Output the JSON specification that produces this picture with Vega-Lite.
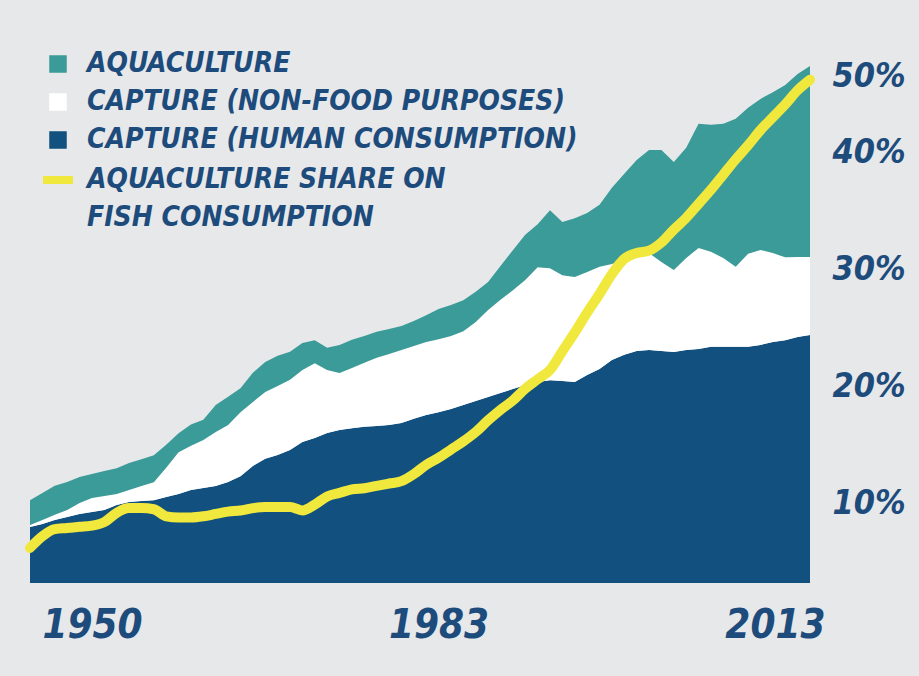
{
  "$schema": "https://vega.github.io/schema/vega-lite/v6.json",
  "width": 780,
  "height": 543,
  "autosize": {"type": "none"},
  "padding": {"left": 30, "top": 40, "right": 109, "bottom": 93},
  "background": "#e7e8ea",
  "config": {"view": {"stroke": null}, "font": "'DejaVu Sans Condensed', 'Roboto Condensed', Roboto, sans-serif"},
  "data": {"values": [
    {"year": 1950, "human": 17.5, "nonfood": 0.6, "aqua": 7.8, "share": 6.2},
    {"year": 1951, "human": 18.4, "nonfood": 1.3, "aqua": 8.4, "share": 7.2},
    {"year": 1952, "human": 19.7, "nonfood": 1.6, "aqua": 9.1, "share": 7.8},
    {"year": 1953, "human": 20.6, "nonfood": 2.2, "aqua": 8.8, "share": 7.9},
    {"year": 1954, "human": 21.6, "nonfood": 3.4, "aqua": 8.1, "share": 8.0},
    {"year": 1955, "human": 22.2, "nonfood": 4.4, "aqua": 7.5, "share": 8.1},
    {"year": 1956, "human": 22.8, "nonfood": 4.4, "aqua": 7.8, "share": 8.4},
    {"year": 1957, "human": 24.4, "nonfood": 3.4, "aqua": 8.1, "share": 9.2},
    {"year": 1958, "human": 25.3, "nonfood": 3.8, "aqua": 8.4, "share": 9.6},
    {"year": 1959, "human": 25.6, "nonfood": 4.7, "aqua": 8.4, "share": 9.6},
    {"year": 1960, "human": 25.9, "nonfood": 5.6, "aqua": 8.4, "share": 9.5},
    {"year": 1961, "human": 26.9, "nonfood": 9.1, "aqua": 7.2, "share": 8.9},
    {"year": 1962, "human": 27.8, "nonfood": 13.1, "aqua": 5.9, "share": 8.8},
    {"year": 1963, "human": 29.1, "nonfood": 13.8, "aqua": 6.6, "share": 8.8},
    {"year": 1964, "human": 29.7, "nonfood": 15.0, "aqua": 6.3, "share": 8.9},
    {"year": 1965, "human": 30.3, "nonfood": 16.9, "aqua": 8.4, "share": 9.1},
    {"year": 1966, "human": 31.6, "nonfood": 17.8, "aqua": 8.8, "share": 9.3},
    {"year": 1967, "human": 33.4, "nonfood": 20.0, "aqua": 7.5, "share": 9.4},
    {"year": 1968, "human": 36.6, "nonfood": 20.0, "aqua": 9.1, "share": 9.6},
    {"year": 1969, "human": 38.8, "nonfood": 20.9, "aqua": 9.4, "share": 9.7},
    {"year": 1970, "human": 40.0, "nonfood": 21.6, "aqua": 9.4, "share": 9.7},
    {"year": 1971, "human": 41.6, "nonfood": 21.9, "aqua": 8.8, "share": 9.7},
    {"year": 1972, "human": 44.1, "nonfood": 22.5, "aqua": 8.4, "share": 9.4},
    {"year": 1973, "human": 45.3, "nonfood": 23.4, "aqua": 7.2, "share": 9.9},
    {"year": 1974, "human": 46.9, "nonfood": 19.7, "aqua": 6.9, "share": 10.6},
    {"year": 1975, "human": 47.8, "nonfood": 17.8, "aqua": 8.8, "share": 10.9},
    {"year": 1976, "human": 48.4, "nonfood": 18.8, "aqua": 8.8, "share": 11.2},
    {"year": 1977, "human": 48.8, "nonfood": 20.0, "aqua": 8.4, "share": 11.3},
    {"year": 1978, "human": 49.1, "nonfood": 21.3, "aqua": 8.1, "share": 11.5},
    {"year": 1979, "human": 49.4, "nonfood": 22.2, "aqua": 7.8, "share": 11.7},
    {"year": 1980, "human": 50.0, "nonfood": 22.8, "aqua": 7.5, "share": 11.9},
    {"year": 1981, "human": 51.3, "nonfood": 22.8, "aqua": 7.8, "share": 12.5},
    {"year": 1982, "human": 52.5, "nonfood": 22.8, "aqua": 8.4, "share": 13.3},
    {"year": 1983, "human": 53.4, "nonfood": 22.8, "aqua": 9.4, "share": 13.9},
    {"year": 1984, "human": 54.4, "nonfood": 22.8, "aqua": 9.7, "share": 14.6},
    {"year": 1985, "human": 55.6, "nonfood": 23.1, "aqua": 9.7, "share": 15.3},
    {"year": 1986, "human": 56.9, "nonfood": 24.7, "aqua": 9.4, "share": 16.1},
    {"year": 1987, "human": 58.1, "nonfood": 27.2, "aqua": 8.8, "share": 17.1},
    {"year": 1988, "human": 59.4, "nonfood": 29.1, "aqua": 10.6, "share": 18.0},
    {"year": 1989, "human": 60.6, "nonfood": 30.9, "aqua": 12.5, "share": 18.8},
    {"year": 1990, "human": 61.9, "nonfood": 32.8, "aqua": 14.1, "share": 19.8},
    {"year": 1991, "human": 62.8, "nonfood": 35.9, "aqua": 13.4, "share": 20.6},
    {"year": 1992, "human": 63.4, "nonfood": 35.0, "aqua": 18.1, "share": 21.4},
    {"year": 1993, "human": 63.1, "nonfood": 33.1, "aqua": 16.6, "share": 23.0},
    {"year": 1994, "human": 62.8, "nonfood": 32.8, "aqua": 18.4, "share": 24.6},
    {"year": 1995, "human": 65.0, "nonfood": 32.2, "aqua": 18.4, "share": 26.3},
    {"year": 1996, "human": 66.9, "nonfood": 31.9, "aqua": 19.4, "share": 27.9},
    {"year": 1997, "human": 69.7, "nonfood": 30.0, "aqua": 23.8, "share": 29.6},
    {"year": 1998, "human": 71.3, "nonfood": 29.7, "aqua": 26.9, "share": 30.9},
    {"year": 1999, "human": 72.5, "nonfood": 29.7, "aqua": 30.0, "share": 31.4},
    {"year": 2000, "human": 72.8, "nonfood": 30.3, "aqua": 32.2, "share": 31.6},
    {"year": 2001, "human": 72.5, "nonfood": 27.8, "aqua": 35.0, "share": 32.3},
    {"year": 2002, "human": 72.2, "nonfood": 25.6, "aqua": 33.8, "share": 33.4},
    {"year": 2003, "human": 72.8, "nonfood": 28.8, "aqua": 34.4, "share": 34.4},
    {"year": 2004, "human": 73.1, "nonfood": 31.6, "aqua": 38.8, "share": 35.6},
    {"year": 2005, "human": 73.8, "nonfood": 29.7, "aqua": 39.7, "share": 36.8},
    {"year": 2006, "human": 73.8, "nonfood": 27.8, "aqua": 41.9, "share": 38.1},
    {"year": 2007, "human": 73.8, "nonfood": 25.0, "aqua": 46.3, "share": 39.4},
    {"year": 2008, "human": 73.8, "nonfood": 29.1, "aqua": 45.6, "share": 40.6},
    {"year": 2009, "human": 74.4, "nonfood": 29.7, "aqua": 47.2, "share": 41.9},
    {"year": 2010, "human": 75.3, "nonfood": 27.8, "aqua": 50.3, "share": 43.0},
    {"year": 2011, "human": 75.9, "nonfood": 25.9, "aqua": 53.8, "share": 44.1},
    {"year": 2012, "human": 76.9, "nonfood": 25.0, "aqua": 57.2, "share": 45.3},
    {"year": 2013, "human": 77.5, "nonfood": 24.4, "aqua": 59.7, "share": 46.2}
  ]},
  "layer": [
    {
      "transform": [
        {"fold": ["human", "nonfood", "aqua"], "as": ["series", "value"]},
        {"calculate": "indexof(['human','nonfood','aqua'], datum.series)", "as": "stackOrder"}
      ],
      "mark": {"type": "area", "interpolate": "linear"},
      "encoding": {
        "x": {
          "field": "year", "type": "quantitative",
          "scale": {"domain": [1950, 2013], "nice": false, "zero": false},
          "axis": {
            "title": null, "values": [1950, 1983, 2013], "format": "d",
            "domain": false, "ticks": false, "grid": false,
            "labelFontSize": 40,
            "labelFontStyle": "italic", "labelFontWeight": "bold",
            "labelColor": "#1d4c7c", "labelPadding": 22, "labelFlush": true,
            "labelOffset": {"condition": [{"test": "datum.value == 1950", "value": 12}, {"test": "datum.value == 2013", "value": 15}], "value": 0}
          }
        },
        "y": {
          "field": "value", "type": "quantitative", "stack": "zero",
          "scale": {"domain": [0, 169.7], "nice": false}, "axis": null
        },
        "color": {
          "field": "series", "type": "nominal",
          "scale": {"domain": ["aqua", "nonfood", "human", "share"], "range": ["#3a9b98", "#ffffff", "#11507f", "#f0e83c"]},
          "legend": {
            "orient": "none", "legendX": 14, "legendY": 10, "title": null, "padding": 0,
            "labelExpr": "datum.value == 'aqua' ? 'AQUACULTURE' : datum.value == 'nonfood' ? 'CAPTURE (NON-FOOD PURPOSES)' : datum.value == 'human' ? 'CAPTURE (HUMAN CONSUMPTION)' : ['AQUACULTURE SHARE ON', 'FISH CONSUMPTION']",
            "labelFontSize": 28,
            "labelFontStyle": "italic", "labelFontWeight": "bold",
            "labelColor": "#1d4c7c", "labelLimit": 800, "rowPadding": 10, "labelOffset": 15,
            "symbolSize": 900,
            "encode": {
              "symbols": {"update": {
                "shape": {"signal": "datum.value == 'share' ? 'stroke' : 'square'"},
                "size": {"signal": "datum.value == 'share' ? 900 : 256"},
                "fill": {"signal": "datum.value == 'aqua' ? '#3a9b98' : datum.value == 'nonfood' ? '#ffffff' : datum.value == 'human' ? '#11507f' : 'transparent'"},
                "stroke": {"signal": "datum.value == 'share' ? '#f0e83c' : datum.value == 'nonfood' ? '#9a9a9a' : 'transparent'"},
                "strokeWidth": {"signal": "datum.value == 'share' ? 8 : 1.5"},
                "opacity": {"value": 1},
                "fillOpacity": {"value": 1},
                "strokeOpacity": {"value": 1}
              }},
              "labels": {"update": {"lineHeight": {"value": 38}}}
            }
          }
        },
        "order": {"field": "stackOrder", "type": "quantitative"}
      }
    },
    {
      "mark": {"type": "line", "interpolate": "monotone", "strokeWidth": 10, "strokeCap": "round"},
      "encoding": {
        "x": {"field": "year", "type": "quantitative"},
        "y": {
          "field": "share", "type": "quantitative",
          "scale": {"domain": [3.2, 49.6], "nice": false, "zero": false},
          "axis": {
            "orient": "right", "title": null, "values": [10, 20, 30, 40, 46.5],
            "labelExpr": "datum.value > 45 ? '50%' : datum.value + '%'",
            "domain": false, "ticks": false, "grid": false,
            "labelFontSize": 34,
            "labelFontStyle": "italic", "labelFontWeight": "bold",
            "labelColor": "#1d4c7c", "labelPadding": 22
          }
        },
        "color": {"datum": "share"}
      }
    }
  ],
  "resolve": {"scale": {"y": "independent"}}
}
